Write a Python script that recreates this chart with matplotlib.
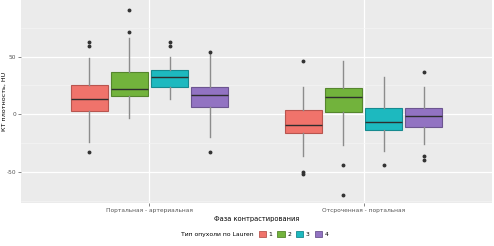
import numpy as np
import matplotlib.pyplot as plt
from matplotlib.patches import Patch

plt.rcParams['axes.unicode_minus'] = False

phases = ['Портальная - артериальная', 'Отсроченная - портальная']
types = ['1', '2', '3', '4']

# box stats per phase, per Lauren type (HU)
q1 = [[3, 16, 24, 6], [-16, 2, -14, -11]]
med = [[13, 22, 32, 17], [-9, 15, -7, -2]]
q3 = [[25, 37, 38.5, 24], [4, 23, 5.5, 5]]
whislo = [[-24, -3, 13, -20], [-36, -27, -32, -26]]
whishi = [[49, 66, 50, 52], [24, 46, 32, 24]]
fliers = [
    [[63, 59, -33], [90, 71], [63, 59], [54, -33]],
    [[46, -50, -52], [-44, -70], [-44], [37, -36, -40]],
]

fill_colors = ['#F0736B', '#72B33C', '#1DB9BF', '#9273C2']
edge_colors = ['#B8554F', '#55862D', '#168A8F', '#6C5590']

fig = plt.figure(figsize=(4.94, 2.46), dpi=100)
ax = fig.add_axes([21 / 494, 43 / 246, 471 / 494, 203 / 246])
ax.set_facecolor('#EBEBEB')

offsets = (np.arange(4) - 1.5) * 0.1875
for g in range(len(phases)):
    for t in range(len(types)):
        st = [dict(med=med[g][t], q1=q1[g][t], q3=q3[g][t],
                   whislo=whislo[g][t], whishi=whishi[g][t],
                   fliers=fliers[g][t])]
        ax.bxp(st, positions=[g + 1 + offsets[t]], widths=0.172,
               patch_artist=True, showcaps=False,
               boxprops=dict(facecolor=fill_colors[t], edgecolor=edge_colors[t], linewidth=0.8),
               medianprops=dict(color='#2E2E2E', linewidth=1.0),
               whiskerprops=dict(color='#8C8C8C', linewidth=1.0),
               flierprops=dict(marker='o', markersize=1.8, markerfacecolor='#333333',
                               markeredgecolor='#333333'),
               zorder=3)

ax.set_xlim(0.4, 2.6)
ax.set_ylim(-77, 99)
ax.set_xticks([1, 2])
ax.set_xticklabels(phases)
ax.set_yticks([-50, 0, 50])
ax.set_yticks([-75, -25, 25, 75], minor=True)
ax.grid(True, which='major', color='white', linewidth=0.9, zorder=0)
ax.grid(True, which='minor', axis='y', color='#F5F5F5', linewidth=0.5, zorder=0)
ax.set_axisbelow(True)
for s in ax.spines.values():
    s.set_visible(False)
ax.tick_params(axis='both', which='major', labelsize=4.2, labelcolor='#555555',
               color='#555555', length=2, width=0.5, pad=1.5)
ax.tick_params(axis='both', which='minor', length=0)

ax.set_ylabel('КТ плотность, HU', fontsize=4.6)
ax.yaxis.set_label_coords(-14 / 471, 0.5)
ax.set_xlabel('Фаза контрастирования', fontsize=4.8, labelpad=2.5)

fig.text(0.366, 0.048, 'Тип опухоли по Lauren', fontsize=4.4, va='center', ha='left')
handles = [Patch(facecolor=fill_colors[i], edgecolor=edge_colors[i], linewidth=0.6)
           for i in range(4)]
fig.legend(handles, types, loc='center left', bbox_to_anchor=(0.518, 0.048), ncol=4,
           frameon=False, fontsize=4.4, handlelength=1.2, handleheight=1.2,
           handletextpad=0.4, columnspacing=0.8, borderpad=0)

fig.savefig('out.png', dpi=100)
